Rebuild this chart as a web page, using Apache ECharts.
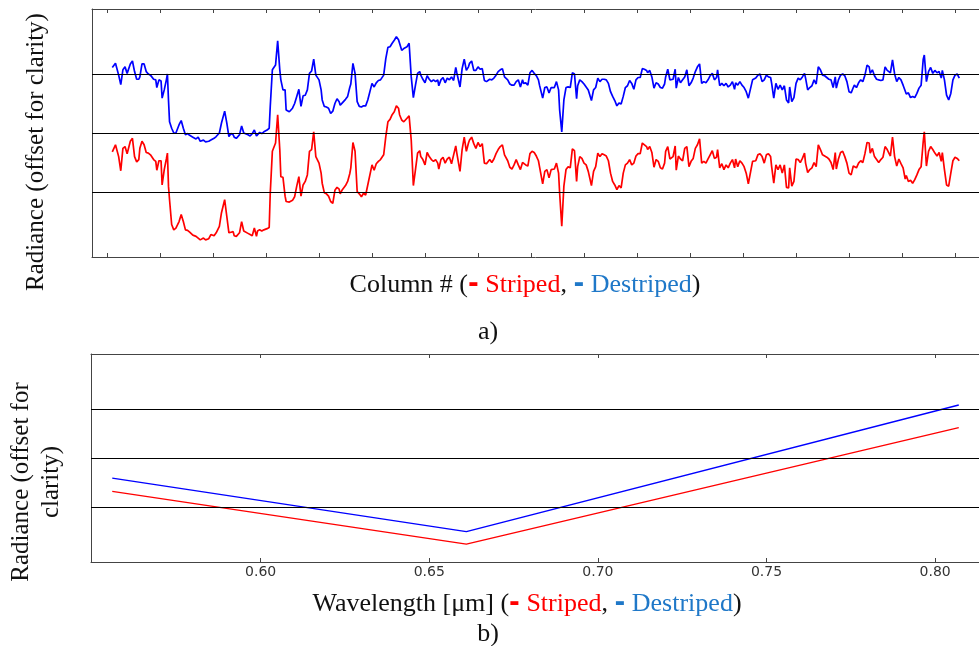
<!DOCTYPE html>
<html>
<head>
<meta charset="utf-8">
<script src="https://cdn.jsdelivr.net/npm/echarts@6/dist/echarts.min.js"></script>
<style>
html,body{margin:0;padding:0;background:#fff;}
#chart{width:979px;height:646px;}
</style>
</head>
<body>
<div id="chart"></div>
<script>
// ---- Panel a) : profile along columns ----
const columns = [
5,8,9,11,13,15,17,19,20,22,24,26,28,30,31,33,35,37,39,41,44,46,47,49,51,52,54,56,57,58,59,61,63,65,68,70,72,74,76,78,81,84,86,88,91,93,96,98,101,103,106,108,111,113,115,117,119,120,122,125,127,129,130,133,135,137,139,141,142,144,146,148,151,153,154,156,159,161,163,164,166,168,169,172,175,177,179,181,183,185,187,189,191,
193,195,197,200,202,203,205,207,209,211,213,215,217,219,220,222,225,227,229,230,232,234,236,238,240,242,244,246,247,250,252,254,256,258,259,261,263,265,267,269,271,273,275,276,278,280,283,285,287,289,291,293,295,296,298,300,302,304,306,308,310,312,313,315,317,319,321,323,325,327,329,330,333,335,337,339,341,342,344,346,348,350,352,354,356,358,359,361,363,365,367,369,371,373,375,376,378,380,382,384,386,388,390,392,393,395,397,
399,401,403,405,407,408,411,413,415,417,419,420,422,424,426,427,429,431,433,435,437,439,441,443,444,446,448,450,452,454,457,459,461,463,465,467,469,471,473,475,477,479,481,483,485,487,489,491,493,495,497,499,501,503,505,507,509,510,512,514,516,518,520,522,524,526,527,529,531,534,536,537,539,541,543,545,547,549,551,553,555,557,559,561,563,565,567,569,571,573,575,576,578,580,582,584,586,588,590,592,593,595,597,599,601,603,605,
609,610,612,614,616,618,620,622,624,626,627,629,631,633,635,637,639,641,643,644,646,648,650,652,654,656,658,659,661,663,665,667,669,671,673,675,677,679,681,683,685,687,688,690,692,694,696,698,700,702,704,705,707,709,711,713,715,717,719,720,722,724,726,728,730,732,734,736,737,739,741,743,745,747,749,751,753,754,756,758,760,762,764,766,768,770,771,773,775,777,779,781,783,785,787,788,790,792,794,796,798,800,802,804
];
const destriped = [
3.11,3.18,3.18,2.98,2.82,3.07,3.12,3.01,3.04,3.17,3.22,3.04,2.91,2.91,2.95,3.17,3.17,3.04,3.00,2.98,2.91,2.90,2.77,2.90,2.88,2.59,2.73,2.90,3.00,2.56,2.19,2.08,2.00,2.00,2.14,2.21,2.08,1.97,1.99,1.96,1.93,1.90,1.93,1.86,1.88,1.85,1.86,1.88,1.91,1.94,2.00,2.17,2.37,2.17,1.94,1.99,1.97,1.93,1.91,1.97,2.12,2.00,1.98,1.97,1.95,1.99,2.05,1.95,1.98,2.01,1.99,2.02,2.05,2.08,2.45,3.07,3.15,3.56,3.07,2.90,2.73,2.73,2.39,2.36,2.42,2.50,2.62,2.74,2.45,2.63,2.64,2.73,3.01,
3.05,3.25,2.98,2.90,2.73,2.56,2.45,2.44,2.42,2.33,2.37,2.50,2.58,2.53,2.47,2.51,2.57,2.62,2.77,2.83,3.18,3.01,2.53,2.45,2.44,2.46,2.46,2.56,2.59,2.84,2.78,2.85,2.89,2.90,2.91,2.98,3.26,3.45,3.46,3.52,3.57,3.63,3.58,3.52,3.40,3.43,3.46,3.52,2.95,2.60,2.81,3.01,3.04,2.98,2.91,2.85,2.97,2.91,2.87,2.90,2.87,2.90,2.80,2.90,2.94,2.85,2.93,2.90,2.95,2.89,3.11,3.02,2.78,3.09,3.25,3.06,3.12,3.18,3.22,3.06,3.06,3.12,3.08,3.09,2.89,2.87,2.87,2.91,2.90,2.93,2.98,3.04,3.07,3.09,2.95,2.95,2.90,2.83,2.81,2.81,2.87,2.90,2.78,2.90,2.84,2.85,2.81,
3.02,3.06,3.01,2.97,2.90,2.81,2.59,2.77,2.78,2.68,2.77,2.78,2.77,2.87,2.73,2.39,2.02,2.56,2.77,2.78,2.77,3.02,3.00,2.58,2.80,2.90,2.87,2.83,2.78,2.73,2.55,2.73,2.77,2.93,2.87,2.91,2.91,2.90,2.84,2.70,2.62,2.55,2.46,2.51,2.49,2.62,2.77,2.80,2.89,2.84,2.74,2.90,2.94,2.94,3.09,3.08,3.06,3.02,3.06,2.95,2.76,2.85,2.83,2.77,2.76,2.83,2.95,3.08,2.90,2.91,3.08,2.76,2.94,2.85,2.90,2.95,3.07,2.80,2.85,2.93,3.04,3.12,3.17,2.84,2.87,2.85,2.90,2.97,3.01,2.90,2.94,3.07,2.80,2.84,2.80,2.84,2.78,2.81,2.87,2.74,2.85,2.81,2.87,2.81,2.77,2.70,2.59,
2.90,2.89,2.93,2.98,3.00,2.87,2.90,2.98,2.95,2.94,2.84,2.59,2.84,2.74,2.81,2.73,2.80,2.56,2.51,2.78,2.53,2.60,2.84,2.93,2.90,2.95,3.01,2.93,2.73,2.77,2.80,2.90,2.83,3.12,3.07,2.98,2.97,2.94,2.91,2.90,2.77,2.95,2.76,2.90,2.98,3.00,2.97,2.87,2.70,2.68,2.77,2.81,2.77,2.85,2.90,2.87,2.98,3.15,3.12,3.01,3.07,2.97,2.91,2.90,2.89,2.90,3.12,3.06,3.09,3.02,3.24,3.00,2.87,2.94,2.90,2.81,2.71,2.66,2.68,2.60,2.62,2.60,2.67,2.76,2.81,3.25,3.32,2.87,3.04,3.11,3.01,3.06,3.02,3.04,2.93,3.06,2.90,2.64,2.56,2.67,2.90,2.98,3.00,2.93
];
const striped = [
1.68,1.80,1.80,1.60,1.36,1.74,1.77,1.65,1.66,1.86,1.91,1.60,1.51,1.55,1.74,1.86,1.80,1.67,1.66,1.63,1.55,1.52,1.37,1.53,1.53,1.12,1.38,1.56,1.66,1.10,0.87,0.45,0.36,0.39,0.50,0.62,0.50,0.36,0.35,0.32,0.27,0.25,0.22,0.19,0.22,0.19,0.21,0.28,0.26,0.31,0.42,0.65,0.87,0.59,0.31,0.32,0.33,0.26,0.25,0.31,0.50,0.34,0.32,0.30,0.28,0.26,0.39,0.25,0.34,0.36,0.34,0.36,0.38,0.40,0.98,1.69,1.83,2.31,1.72,1.26,1.25,0.93,0.84,0.83,0.86,0.92,1.10,1.26,0.93,1.12,1.18,1.29,1.69,
1.72,2.02,1.60,1.49,1.32,1.15,0.99,0.97,0.93,0.84,0.81,1.03,1.08,1.05,0.97,1.04,1.11,1.18,1.31,1.41,1.84,1.69,1.01,0.97,0.92,0.98,0.95,1.12,1.10,1.46,1.37,1.48,1.52,1.55,1.57,1.63,1.94,2.19,2.23,2.31,2.36,2.46,2.42,2.31,2.22,2.19,2.25,2.29,1.88,1.11,1.38,1.66,1.70,1.60,1.55,1.46,1.67,1.60,1.55,1.52,1.55,1.49,1.39,1.55,1.59,1.49,1.56,1.59,1.48,1.63,1.78,1.66,1.35,1.72,1.93,1.69,1.83,1.88,1.93,1.82,1.74,1.84,1.77,1.82,1.49,1.48,1.50,1.55,1.50,1.56,1.65,1.72,1.77,1.80,1.63,1.60,1.53,1.42,1.39,1.46,1.55,1.46,1.38,1.50,1.49,1.46,1.44,
1.65,1.69,1.67,1.61,1.53,1.43,1.14,1.35,1.38,1.24,1.38,1.41,1.39,1.49,1.32,0.98,0.42,1.10,1.38,1.43,1.41,1.73,1.70,1.18,1.43,1.60,1.57,1.49,1.46,1.35,1.11,1.35,1.43,1.66,1.60,1.65,1.63,1.61,1.53,1.32,1.18,1.12,1.04,1.11,1.07,1.32,1.46,1.49,1.55,1.46,1.49,1.61,1.65,1.65,1.83,1.80,1.77,1.72,1.77,1.67,1.42,1.55,1.52,1.41,1.39,1.49,1.69,1.77,1.56,1.60,1.78,1.37,1.61,1.56,1.53,1.74,1.77,1.43,1.52,1.57,1.74,1.80,1.90,1.49,1.52,1.49,1.56,1.63,1.70,1.57,1.59,1.72,1.41,1.48,1.38,1.46,1.41,1.49,1.55,1.41,1.56,1.43,1.53,1.49,1.43,1.32,1.14,
1.52,1.50,1.53,1.63,1.65,1.60,1.49,1.63,1.65,1.60,1.43,1.15,1.46,1.38,1.46,1.32,1.46,1.08,1.07,1.41,1.10,1.18,1.56,1.55,1.50,1.57,1.66,1.49,1.33,1.38,1.41,1.50,1.43,1.80,1.72,1.63,1.61,1.59,1.56,1.50,1.38,1.67,1.39,1.56,1.67,1.69,1.60,1.49,1.32,1.29,1.44,1.46,1.41,1.49,1.53,1.50,1.65,1.84,1.83,1.66,1.74,1.60,1.55,1.50,1.55,1.59,1.77,1.72,1.69,1.61,1.93,1.60,1.44,1.56,1.48,1.41,1.22,1.28,1.18,1.20,1.15,1.21,1.29,1.38,1.43,1.86,2.02,1.44,1.69,1.77,1.72,1.66,1.61,1.67,1.52,1.67,1.38,1.12,1.10,1.32,1.53,1.59,1.57,1.53
];
const columnTicks = [0,50,100,150,200,250,300,350,400,450,500,550,600,650,700,750,800];
const offsetLinesA = [1, 2, 3];

// ---- Panel b) : spectrum ----
const wavelengths = [0.556, 0.661, 0.807];
const specStriped = [1.32, 0.245, 2.62];
const specDestriped = [1.59, 0.50, 3.08];
const wavelengthTicks = [0.60, 0.65, 0.70, 0.75, 0.80];
const offsetLinesB = [1, 2, 3];

const RED = '#ff0000', BLUE = '#0000ff', TXTBLUE = '#1f78c8';
const frame = {show: true, onZero: false, lineStyle: {color: '#444', width: 1}};

function zip(xs, ys){ return xs.map((x,i)=>[x, ys[i]]); }

const chart = echarts.init(document.getElementById('chart'), null, {renderer: 'canvas'});

function xAx(grid, min, max, ticks, pos, labels){
  return {
    type: 'value', gridIndex: grid, min: min, max: max, position: pos,
    axisLine: frame,
    axisTick: {show: true, inside: true, length: 4, customValues: ticks, lineStyle: {color: '#444'}},
    axisLabel: labels ? {show: true, customValues: ticks, formatter: v => v.toFixed(2),
      fontFamily: 'DejaVu Sans', fontSize: 14, color: '#333', margin: 3} : {show: false},
    splitLine: {show: false}
  };
}
function yAx(grid, min, max){
  return {type: 'value', gridIndex: grid, min: min, max: max,
    axisLine: frame, axisTick: {show: false}, axisLabel: {show: false}, splitLine: {show: false}};
}
function hLines(xi, yi, vals){
  return {type: 'line', xAxisIndex: xi, yAxisIndex: yi, data: [], silent: true, z: 1,
    markLine: {silent: true, symbol: 'none', label: {show: false},
      lineStyle: {color: '#000', width: 1.2, type: 'solid'},
      emphasis: {disabled: true},
      data: vals.map(v => ({yAxis: v}))}};
}
function line(xi, yi, data, color, w){
  return {type: 'line', xAxisIndex: xi, yAxisIndex: yi, data: data, showSymbol: false,
    symbol: 'none', z: 3, animation: false,
    lineStyle: {color: color, width: w}, itemStyle: {color: color}};
}

const serif = 'Liberation Serif';
const FS = 26;
function legendText(prefix){
  return {
    text: '{k|' + prefix + ' (}{rd|-}{r| Striped}{k|, }{bd|-}{b| Destriped}{k|)}',
    rich: {
      k: {font: FS + 'px "' + serif + '"', fill: '#111'},
      r: {font: FS + 'px "' + serif + '"', fill: RED},
      rd: {font: 'bold ' + FS + 'px "DejaVu Sans"', fill: RED},
      b: {font: FS + 'px "' + serif + '"', fill: TXTBLUE},
      bd: {font: 'bold ' + FS + 'px "DejaVu Sans"', fill: TXTBLUE}
    },
    align: 'center', verticalAlign: 'middle'
  };
}

chart.setOption({
  animation: false,
  backgroundColor: '#fff',
  grid: [
    {left: 92, top: 9, right: 0, height: 248},
    {left: 91, top: 354, right: 0, height: 208}
  ],
  xAxis: [
    xAx(0, -14.15, 822.6, columnTicks, 'bottom', false),
    xAx(0, -14.15, 822.6, columnTicks, 'top', false),
    xAx(1, 0.5497, 0.8130, wavelengthTicks, 'bottom', true),
    xAx(1, 0.5497, 0.8130, wavelengthTicks, 'top', false)
  ],
  yAxis: [yAx(0, -0.1, 4.1), yAx(1, -0.12, 4.12)],
  series: [
    hLines(0, 0, offsetLinesA),
    line(0, 0, zip(columns, destriped), BLUE, 1.7),
    line(0, 0, zip(columns, striped), RED, 1.7),
    hLines(2, 1, offsetLinesB),
    line(2, 1, zip(wavelengths, specDestriped), BLUE, 1.4),
    line(2, 1, zip(wavelengths, specStriped), RED, 1.4)
  ],
  graphic: [
    {type: 'text', x: 525, y: 285, style: legendText('Column #')},
    {type: 'text', x: 488, y: 332, style: {text: 'a)', font: FS + 'px "' + serif + '"', fill: '#111', align: 'center', verticalAlign: 'middle'}},
    {type: 'text', x: 36, y: 152, rotation: Math.PI / 2,
      style: {text: 'Radiance (offset for clarity)', font: '25px "' + serif + '"', fill: '#111', align: 'center', verticalAlign: 'middle'}},
    {type: 'text', x: 36, y: 482, rotation: Math.PI / 2,
      style: {text: 'Radiance (offset for\nclarity)', font: '25px "' + serif + '"', lineHeight: 30, fill: '#111', align: 'center', verticalAlign: 'middle'}},
    {type: 'text', x: 527, y: 604, style: legendText('Wavelength [μm]')},
    {type: 'text', x: 488, y: 634, style: {text: 'b)', font: FS + 'px "' + serif + '"', fill: '#111', align: 'center', verticalAlign: 'middle'}}
  ]
});
</script>
</body>
</html>
